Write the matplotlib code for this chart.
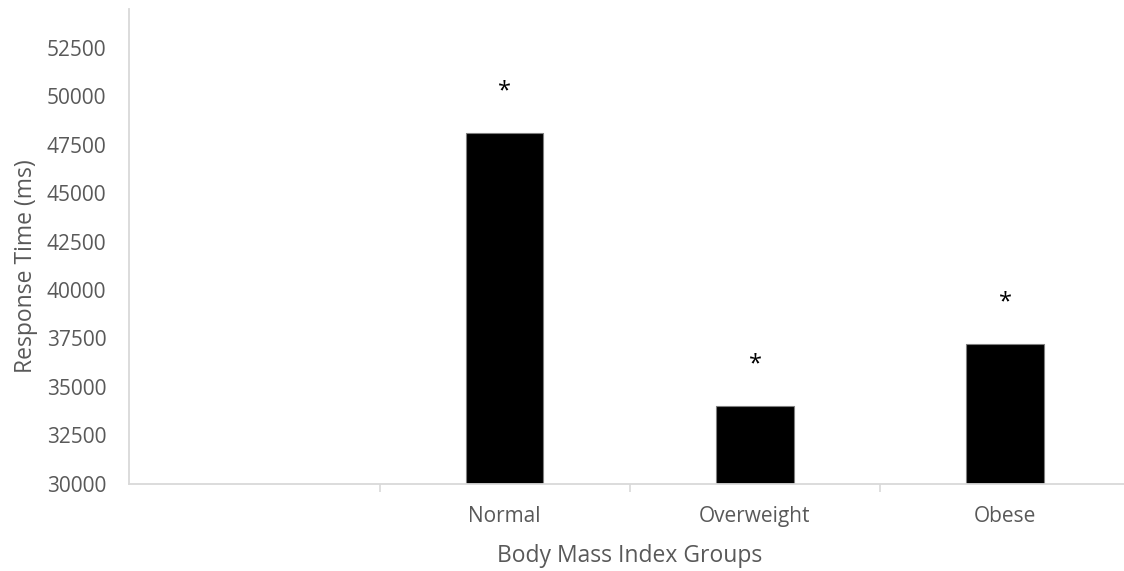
import matplotlib.pyplot as plt
import numpy as np

# -----------------------------
# Data
# -----------------------------

groups = ["", "Normal", "Overweight", "Obese"]
response_ms = [np.nan, 48100, 34000, 37200]
significant = [False, True, True, True]

y_ticks = [30000, 32500, 35000, 37500, 40000, 42500, 45000, 47500, 50000, 52500]

# -----------------------------
# Figure
# -----------------------------

plt.rcParams["font.family"] = ["Open Sans", "DejaVu Sans"]

grid_col = "#d9d9d9"
text_col = "#595959"

fig = plt.figure(figsize=(11.24, 5.71), dpi=100)
ax = fig.add_axes([0.115, 0.153, 0.8907, 0.8308])

x = np.arange(len(groups))

bars = ax.bar(
    x,
    response_ms,
    width=0.31,
    color="black",
    edgecolor="#7f7f7f",
    linewidth=0.8,
)

# significance markers above the bars
for xi, val, sig in zip(x, response_ms, significant):
    if sig:
        ax.annotate(
            "*",
            xy=(xi, val),
            xytext=(0, 30),
            textcoords="offset points",
            ha="center",
            va="center",
            fontsize=17,
            color="black",
        )

ax.set_xlim(-0.5, len(groups) - 0.5)
ax.set_ylim(30000, 54500)

ax.set_yticks(y_ticks)
ax.set_yticklabels([str(t) for t in y_ticks])
ax.tick_params(axis="y", length=0, pad=16.5, labelsize=15, labelcolor=text_col)

ax.set_xticks(x)
ax.set_xticklabels(groups)
ax.tick_params(axis="x", which="major", length=0, pad=16, labelsize=15, labelcolor=text_col)
ax.set_xticks(x[:-1] + 0.5, minor=True)
ax.tick_params(axis="x", which="minor", length=6, width=1.2, color=grid_col)

for side in ["top", "right"]:
    ax.spines[side].set_visible(False)
for side in ["left", "bottom"]:
    ax.spines[side].set_color(grid_col)
    ax.spines[side].set_linewidth(1.3)

ax.set_xlabel("Body Mass Index Groups", fontsize=16.5, color=text_col, labelpad=12)

fig.text(
    0.023, 1 - 266 / 571,
    "Response Time (ms)",
    rotation=90,
    ha="center",
    va="center",
    fontsize=16.5,
    color=text_col,
)

fig.savefig("out.png", dpi=100)
